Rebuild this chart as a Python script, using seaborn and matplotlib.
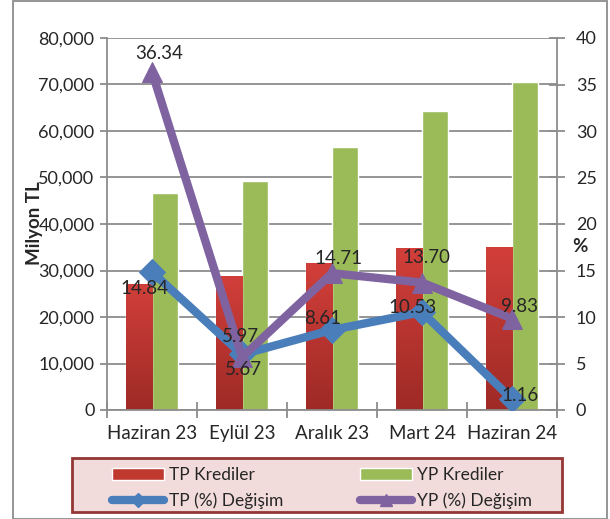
import numpy as np
import pandas as pd
import seaborn as sns
import matplotlib.pyplot as plt
from matplotlib.patches import Rectangle
from matplotlib.lines import Line2D
from matplotlib.colors import LinearSegmentedColormap
from matplotlib.ticker import FuncFormatter, MultipleLocator

periods = ['Haziran 23', 'Eylül 23', 'Aralık 23', 'Mart 24', 'Haziran 24']
tp_krediler = [27100, 28800, 31600, 34800, 35000]
yp_krediler = [46700, 49200, 56500, 64300, 70500]
tp_degisim = [14.84, 5.97, 8.61, 10.53, 1.16]
yp_degisim = [36.34, 5.67, 14.71, 13.70, 9.83]

# label offsets in pixels (dx, dy)
tp_offsets = [(-8, -17), (-2, 18), (-9, 11), (-9, 5), (8, 4)]
yp_offsets = [(7, 19), (1, -12), (7, 15), (4, 25), (8, 12)]

sns.set_style('white')
plt.rcParams['font.family'] = ['Lato', 'DejaVu Sans']

red = '#c0392f'
green = '#9bbb59'
blue = '#4a7ebb'
purple = '#7f63a1'
gray = '#8c8c8c'

df = pd.DataFrame({
    'Dönem': periods * 2,
    'Tutar': tp_krediler + yp_krediler,
    'Seri': ['TP Krediler'] * len(periods) + ['YP Krediler'] * len(periods),
})

fig = plt.figure(figsize=(6.1, 5.19), dpi=100)
ax = fig.add_axes([107 / 610, 109 / 519, 450 / 610, 372 / 519])

sns.barplot(data=df, x='Dönem', y='Tutar', hue='Seri', palette=[red, green],
            width=0.58, gap=0, ax=ax, legend=False, saturation=1, zorder=2)

# red gradient on TP bars
grad = np.linspace(0, 1, 256).reshape(-1, 1)
rcmap = LinearSegmentedColormap.from_list('r', ['#9e2a26', '#d23f3a'])
for p in ax.patches[:len(periods)]:
    x0, y0 = p.get_x(), p.get_y()
    w, h = p.get_width(), p.get_height()
    im = ax.imshow(grad, cmap=rcmap, aspect='auto', origin='lower',
                   extent=[x0, x0 + w, y0, y0 + h], zorder=2.1)
    im.set_clip_path(p)

ax.set_xlim(-0.5, len(periods) - 0.5)
ax.set_ylim(0, 80000)
ax.yaxis.set_major_locator(MultipleLocator(10000))
ax.yaxis.set_major_formatter(FuncFormatter(lambda v, _: f'{int(v):,}'))
ax.grid(axis='y', color=gray, linewidth=1.3, zorder=0)
ax.set_axisbelow(True)
ax.set_xlabel('')
ax.set_ylabel('Milyon TL', fontsize=13.5, fontweight='bold')
ax.yaxis.set_label_coords(-0.143, 0.503)
ax.tick_params(axis='y', direction='out', length=5, width=1.3, color=gray,
               labelsize=13, pad=4, left=True)
ax.tick_params(axis='x', which='major', length=0, labelsize=13.5, pad=11)
ax.set_xticks(np.arange(-0.5, len(periods)), minor=True)
ax.tick_params(axis='x', which='minor', direction='inout', length=12, width=1.3,
               color=gray, bottom=True)
for s in ['top', 'right']:
    ax.spines[s].set_visible(False)
for s in ['left', 'bottom']:
    ax.spines[s].set_color(gray)
    ax.spines[s].set_linewidth(1.3)

ax2 = ax.twinx()
xs = np.arange(len(periods))
sns.lineplot(x=xs, y=tp_degisim, ax=ax2, color=blue, linewidth=6, marker='D',
             markersize=13, markeredgecolor=blue, zorder=3)
sns.lineplot(x=xs, y=yp_degisim, ax=ax2, color=purple, linewidth=6, marker='^',
             markersize=15, markeredgecolor=purple, zorder=4)
ax2.set_ylim(0, 40)
ax2.yaxis.set_major_locator(MultipleLocator(5))
ax2.set_ylabel('%', fontsize=13.5, fontweight='bold', rotation=0)
ax2.yaxis.set_label_coords(1.05, 0.463)
ax2.tick_params(axis='y', direction='inout', length=11, width=1.3, color=gray,
                labelsize=13, pad=8, right=True)
for s in ['top', 'left', 'bottom']:
    ax2.spines[s].set_visible(False)
ax2.spines['right'].set_color(gray)
ax2.spines['right'].set_linewidth(1.3)

for i in range(len(periods)):
    ax2.annotate(f'{tp_degisim[i]:.2f}', (xs[i], tp_degisim[i]),
                 xytext=tp_offsets[i], textcoords='offset pixels',
                 ha='center', va='center', fontsize=13.5, zorder=6)
    ax2.annotate(f'{yp_degisim[i]:.2f}', (xs[i], yp_degisim[i]),
                 xytext=yp_offsets[i], textcoords='offset pixels',
                 ha='center', va='center', fontsize=13.5, zorder=6)

# legend box
fig.patches.append(Rectangle((72 / 610, 7 / 519), 490 / 610, 54 / 519,
                             transform=fig.transFigure, facecolor='#f2dcdb',
                             edgecolor='#943634', linewidth=2, zorder=1))

handles = [
    Rectangle((0, 0), 1, 1, facecolor=red),
    Line2D([], [], color=blue, linewidth=6, marker='D', markersize=7),
    Rectangle((0, 0), 1, 1, facecolor=green),
    Line2D([], [], color=purple, linewidth=6, marker='^', markersize=8),
]
labels = ['TP Krediler', 'TP (%) Değişim', 'YP Krediler', 'YP (%) Değişim']
fig.legend(handles, labels, ncol=2, loc='upper left',
           bbox_to_anchor=(112 / 610, 1 - 467 / 519), borderaxespad=0,
           fontsize=12.5, handlelength=3.0, handleheight=0.75,
           frameon=False, borderpad=0, labelspacing=0.55,
           handletextpad=0.3, columnspacing=4.4)

# outer chart border
fig.patches.append(Rectangle((13 / 610, 0), 594 / 610, 518 / 519, transform=fig.transFigure,
                             fill=False, edgecolor=gray, linewidth=1.3))

fig.savefig('out.png', dpi=100)
